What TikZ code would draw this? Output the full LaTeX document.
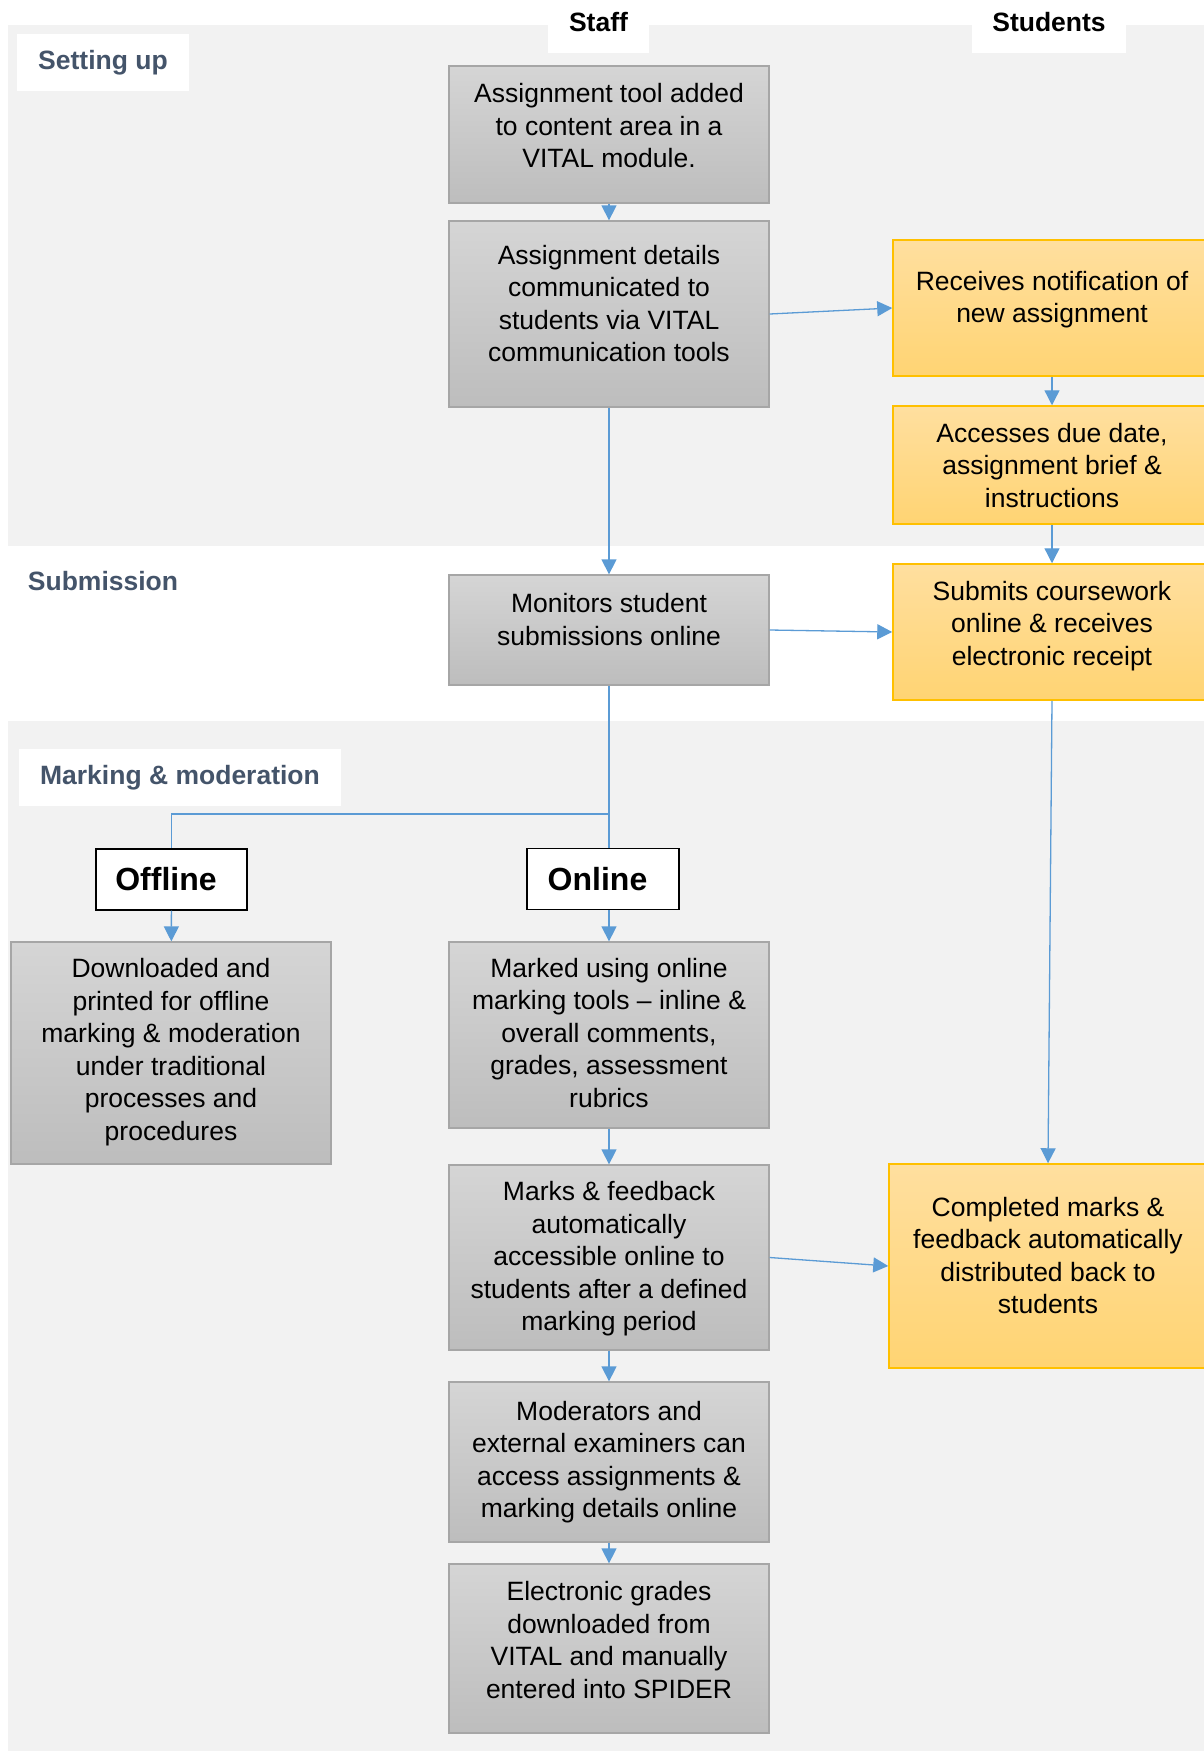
\documentclass[tikz,border=0pt]{standalone}
\usepackage{fontspec}
\setmainfont{Liberation Sans}
\usetikzlibrary{arrows.meta}

\definecolor{band}{HTML}{F2F2F2}
\definecolor{stafftop}{HTML}{D5D5D5}
\definecolor{staffbot}{HTML}{BDBDBD}
\definecolor{staffline}{HTML}{A6A6A6}
\definecolor{studtop}{HTML}{FFDF9F}
\definecolor{studbot}{HTML}{FFD473}
\definecolor{studline}{HTML}{FFC000}
\definecolor{linkblue}{HTML}{5B9BD5}
\definecolor{phase}{HTML}{44546A}

\newcommand{\pad}[1]{\rule[-#1pt]{0pt}{0pt}}
\newcommand{\lift}{\rule{0pt}{29.5pt}}

\tikzset{
    body/.style={font=\fontsize{26.5}{32.5}\selectfont},
    staffbox/.style={body,draw=staffline,line width=1.3pt,top color=stafftop,bottom color=staffbot,
        minimum width=320,inner sep=0pt,align=center,execute at end node=\strut},
    studbox/.style={body,draw=studline,line width=1.5pt,top color=studtop,bottom color=studbot,
        minimum width=318,inner sep=0pt,align=center,execute at end node=\strut},
    tab/.style={body,fill=white,font=\fontsize{26.5}{32.5}\selectfont\bfseries,minimum height=53,
        anchor=north,inner sep=0pt,execute at begin node=\strut},
    phaselabel/.style={text=phase,font=\fontsize{26.5}{32.5}\selectfont\bfseries,inner sep=0pt,
        execute at begin node=\strut},
    mode/.style={draw=black,line width=1.4pt,fill=white,font=\fontsize{32}{38}\selectfont\bfseries,
        minimum width=152,minimum height=61,inner sep=0pt},
    wire/.style={draw=linkblue,line width=1.3pt},
    link/.style={wire,-{Triangle[length=15pt,width=15pt]}}
}

\begin{document}
\begin{tikzpicture}[x=1pt,y=-1pt]
    \clip (0,0) rectangle (1204,1751);
    \useasboundingbox (0,0) rectangle (1204,1751);
    \fill[band] (8,25) rectangle (1204,546);
    \fill[band] (8,721) rectangle (1204,1751);

    \node[tab,minimum width=101] (staffhead) at (598.5,0) {Staff\pad{14}};
    \node[tab,minimum width=154] (studhead) at (1049,0) {Students\pad{14}};

    \node[phaselabel,fill=white,minimum width=172,minimum height=57] (setup) at (103,62.5) {Setting up};
    \node[phaselabel] (submission) at (103,584) {Submission};
    \node[phaselabel,fill=white,minimum width=322,minimum height=57] (marking) at (180,777.5) {Marking \& moderation};

    \node[staffbox,minimum height=137] (tool) at (609,134.5)
        {\lift Assignment tool added\\to content area in a\\VITAL module.\pad{28}};
    \node[staffbox,minimum height=186] (details) at (609,314)
        {\lift Assignment details\\communicated to\\students via VITAL\\communication tools\pad{32}};
    \node[staffbox,minimum height=110] (monitors) at (609,630)
        {\lift Monitors student\\submissions online\pad{32}};

    \node[studbox,minimum height=136] (receives) at (1052,308)
        {\lift Receives notification of\\new assignment\pad{33}};
    \node[studbox,minimum height=118] (accesses) at (1052,465)
        {\lift Accesses due date,\\assignment brief \&\\instructions};
    \node[studbox,minimum height=136] (submits) at (1052,632)
        {\lift Submits coursework\\online \& receives\\electronic receipt\pad{28}};

    \node[mode,minimum width=151] (offline) at (171.5,879.5) {Offline\rule{11pt}{0pt}};
    \node[mode] (online) at (603,879) {Online\rule{11pt}{0pt}};

    \node[staffbox,minimum height=222] (downloaded) at (171,1053)
        {\lift Downloaded and\\printed for offline\\marking \& moderation\\under traditional\\processes and\\procedures\pad{18}};
    \node[staffbox,minimum height=186] (marked) at (609,1035)
        {\lift Marked using online\\marking tools -- inline \&\\overall comments,\\grades, assessment\\rubrics\pad{15}};
    \node[staffbox,minimum height=185] (marks) at (609,1257.5)
        {\lift Marks \& feedback\\automatically\\accessible online to\\students after a defined\\marking period\pad{13}};
    \node[staffbox,minimum height=160] (moderators) at (609,1462)
        {\lift Moderators and\\external examiners can\\access assignments \&\\marking details online\pad{16}};
    \node[staffbox,minimum height=169] (electronic) at (609,1648.5)
        {\lift Electronic grades\\downloaded from\\VITAL and manually\\entered into SPIDER\pad{28}};

    \node[studbox,minimum height=204] (completed) at (1048,1266)
        {\lift Completed marks \&\\feedback automatically\\distributed back to\\students\pad{32}};

    \coordinate (split) at (609,814);

    \draw[link] (tool) -- (details);
    \draw[link] (details.east) -- (receives.west);
    \draw[link] (receives) -- (accesses);
    \draw[link] (accesses) -- (submits);
    \draw[link] (details) -- (monitors);
    \draw[link] (monitors.east) -- (submits.west);
    \draw[wire] (monitors.south) -- (monitors.south |- online.north);
    \draw[wire] (split) -| (offline.north);
    \draw[link] (offline) -- (downloaded);
    \draw[link] (online.south -| marked.north) -- (marked.north);
    \draw[link] (submits.south) -- (completed.north);
    \draw[link] (marked) -- (marks);
    \draw[link] (marks.east) -- (completed.west);
    \draw[link] (marks) -- (moderators);
    \draw[link] (moderators) -- (electronic);
\end{tikzpicture}
\end{document}
